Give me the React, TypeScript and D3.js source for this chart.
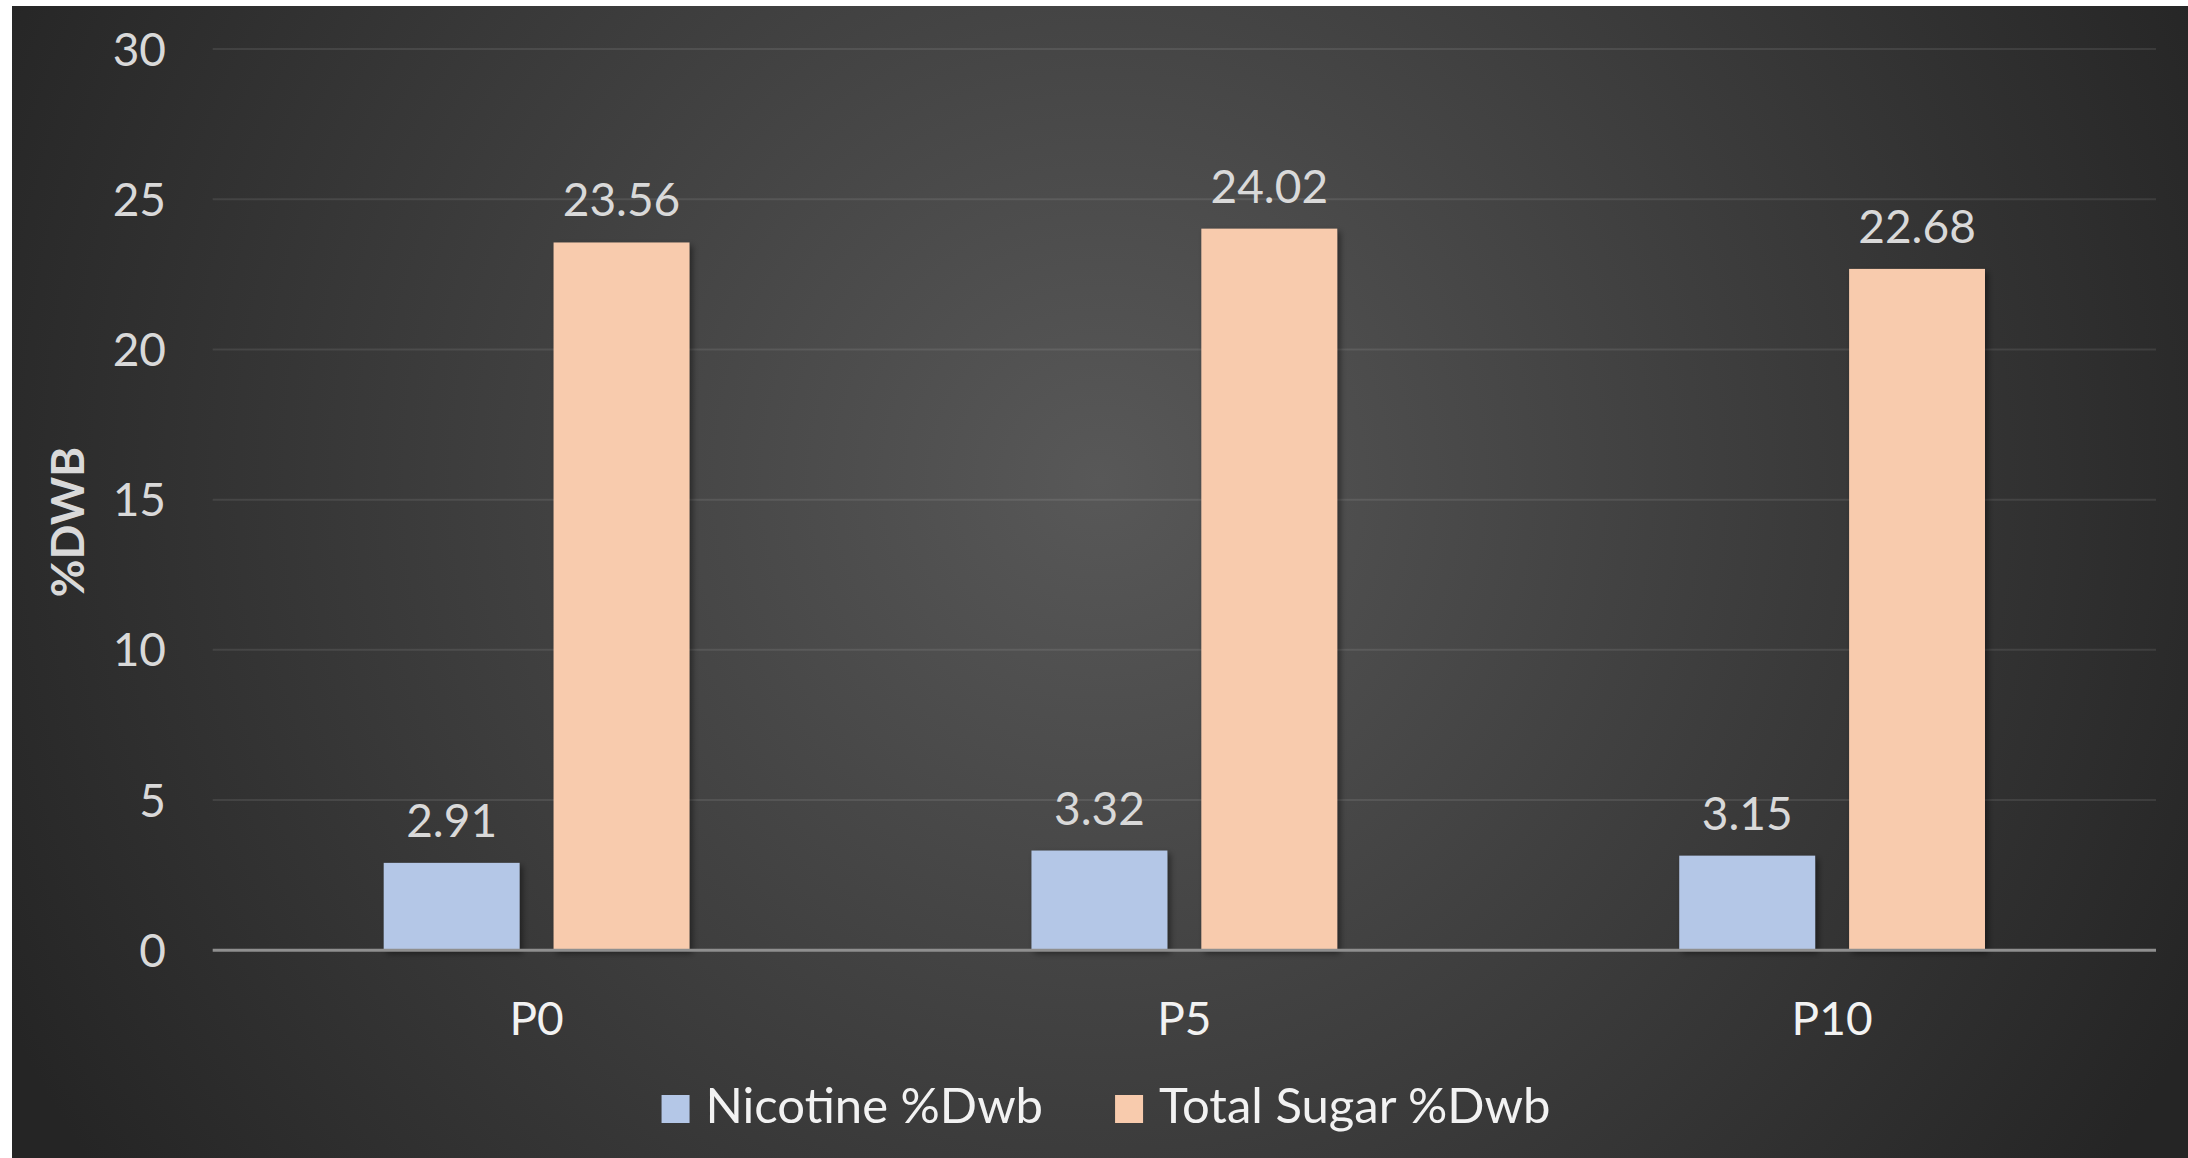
import React, { useEffect, useRef } from "react";
import * as d3 from "d3";

const categories = ["P0", "P5", "P10"];
const seriesNames = ["Nicotine %Dwb", "Total Sugar %Dwb"];
const nicotine = [2.91, 3.32, 3.15];
const totalSugar = [23.56, 24.02, 22.68];
const yTicks = [0, 5, 10, 15, 20, 25, 30];
const seriesColors = ["#b4c7e7", "#f8cbad"];

const W = 2188;
const H = 1158;
const FONT = "Lato, 'Open Sans', sans-serif";

export default function App() {
  const ref = useRef<SVGSVGElement | null>(null);

  useEffect(() => {
    const svg = d3.select(ref.current);
    svg.selectAll("*").remove();

    const defs = svg.append("defs");
    const grad = defs
      .append("radialGradient")
      .attr("id", "bg")
      .attr("gradientUnits", "userSpaceOnUse")
      .attr("cx", 1100)
      .attr("cy", 480)
      .attr("r", 1220);
    grad.append("stop").attr("offset", 0).attr("stop-color", "#585858");
    grad.append("stop").attr("offset", 1).attr("stop-color", "#252525");

    const filt = defs
      .append("filter")
      .attr("id", "shadow")
      .attr("x", "-20%")
      .attr("y", "-20%")
      .attr("width", "140%")
      .attr("height", "140%");
    filt
      .append("feDropShadow")
      .attr("dx", 3)
      .attr("dy", 3)
      .attr("stdDeviation", 3)
      .attr("flood-color", "#000")
      .attr("flood-opacity", 0.45);

    svg
      .append("rect")
      .attr("x", 12)
      .attr("y", 6)
      .attr("width", W - 12)
      .attr("height", H - 6)
      .attr("fill", "url(#bg)");

    const left = 212.7;
    const right = 2156;
    const top = 49;
    const bottom = 950.3;

    const y = d3.scaleLinear().domain([0, 30]).range([bottom, top]);
    const x0 = d3
      .scaleBand<string>()
      .domain(categories)
      .range([left, right])
      .paddingInner(0.528)
      .paddingOuter(0.264);
    const x1 = d3
      .scaleBand<number>()
      .domain([0, 1])
      .range([0, x0.bandwidth()])
      .paddingInner(0.2)
      .paddingOuter(0);

    // gridlines
    svg
      .append("g")
      .selectAll("line")
      .data(yTicks.filter((t) => t !== 0))
      .join("line")
      .attr("x1", left)
      .attr("x2", right)
      .attr("y1", (d) => y(d))
      .attr("y2", (d) => y(d))
      .attr("stroke", "#ffffff")
      .attr("stroke-opacity", 0.09)
      .attr("stroke-width", 2);

    // y tick labels
    svg
      .append("g")
      .selectAll("text")
      .data(yTicks)
      .join("text")
      .attr("x", 166)
      .attr("y", (d) => y(d))
      .attr("dy", "0.36em")
      .attr("text-anchor", "end")
      .attr("font-family", FONT)
      .attr("font-size", 46)
      .attr("fill", "#d9d9d9")
      .text((d) => String(d));

    // y title
    svg
      .append("text")
      .attr("transform", `translate(84,${522}) rotate(-90)`)
      .attr("text-anchor", "middle")
      .attr("font-family", FONT)
      .attr("font-weight", "bold")
      .attr("font-size", 46)
      .attr("fill", "#d9d9d9")
      .text("%DWB");

    const values = [nicotine, totalSugar];
    const rows = categories.flatMap((c, ci) =>
      values.map((vals, si) => ({ c, si, v: vals[ci] }))
    );

    // bars
    svg
      .append("g")
      .selectAll("rect")
      .data(rows)
      .join("rect")
      .attr("x", (d) => (x0(d.c) as number) + (x1(d.si) as number))
      .attr("y", (d) => y(d.v))
      .attr("width", x1.bandwidth())
      .attr("height", (d) => y(0) - y(d.v))
      .attr("fill", (d) => seriesColors[d.si])
      .attr("filter", "url(#shadow)");

    // zero axis line
    svg
      .append("line")
      .attr("x1", left)
      .attr("x2", right)
      .attr("y1", y(0))
      .attr("y2", y(0))
      .attr("stroke", "#8f8f8f")
      .attr("stroke-width", 3);

    // data labels
    svg
      .append("g")
      .selectAll("text")
      .data(rows)
      .join("text")
      .attr("x", (d) => (x0(d.c) as number) + (x1(d.si) as number) + x1.bandwidth() / 2)
      .attr("y", (d) => y(d.v) - 26)
      .attr("text-anchor", "middle")
      .attr("font-family", FONT)
      .attr("font-size", 46)
      .attr("fill", "#d9d9d9")
      .text((d) => d.v.toFixed(2));

    // category labels
    svg
      .append("g")
      .selectAll("text")
      .data(categories)
      .join("text")
      .attr("x", (d) => (x0(d) as number) + x0.bandwidth() / 2)
      .attr("y", 1035)
      .attr("text-anchor", "middle")
      .attr("font-family", FONT)
      .attr("font-size", 46)
      .attr("fill", "#f2f2f2")
      .text((d) => d);

    // legend
    const lg = svg.append("g");
    const sq = 28;
    const gapAfterSq = 16;
    const gapBetween = 72;
    let cx = 0;
    seriesNames.forEach((name, i) => {
      lg.append("rect")
        .attr("x", cx)
        .attr("y", 1095)
        .attr("width", sq)
        .attr("height", sq)
        .attr("fill", seriesColors[i]);
      const t = lg
        .append("text")
        .attr("x", cx + sq + gapAfterSq)
        .attr("y", 1123)
        .attr("font-family", FONT)
        .attr("font-size", 49)
        .attr("fill", "#f2f2f2")
        .text(name);
      const w = (t.node() as SVGTextElement).getComputedTextLength();
      cx += sq + gapAfterSq + w + gapBetween;
    });
    const total = cx - gapBetween;
    lg.attr("transform", `translate(${1106 - total / 2},0)`);
  }, []);

  return (
    <svg
      ref={ref}
      width={W}
      height={H}
      style={{ position: "absolute", left: 0, top: 0, display: "block" }}
    />
  );
}
